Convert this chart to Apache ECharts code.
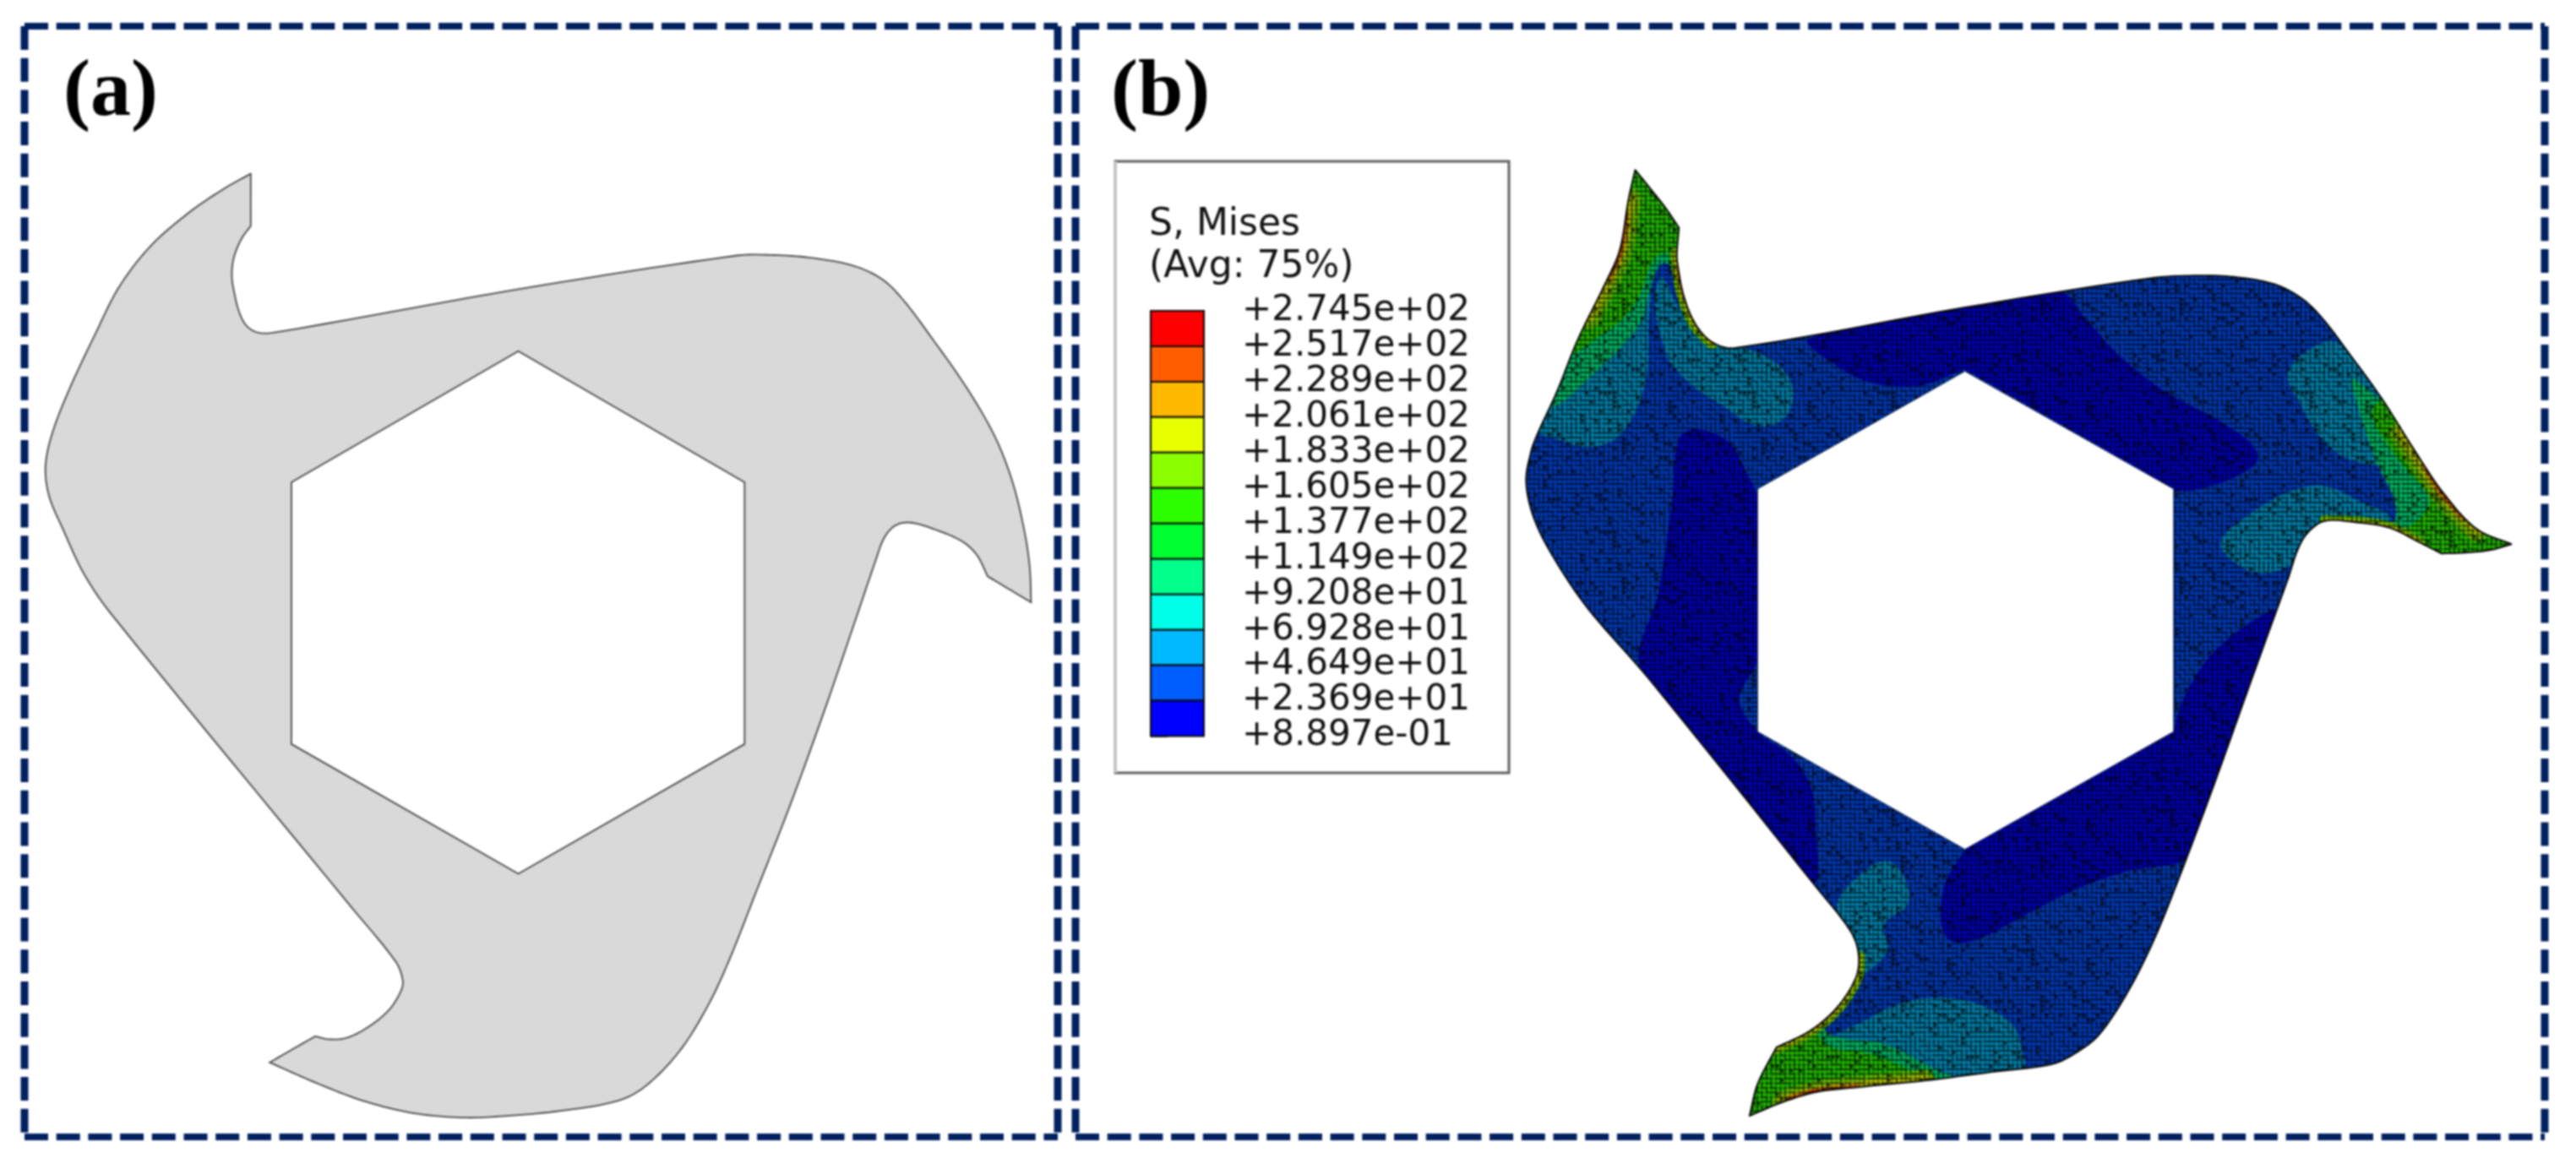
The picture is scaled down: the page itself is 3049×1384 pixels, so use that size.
<!DOCTYPE html>
<html><head><meta charset="utf-8">
<script src="https://cdn.jsdelivr.net/npm/echarts@6/dist/echarts.min.js"></script>
<style>html,body{margin:0;padding:0;background:#fff}#chart{width:3049px;height:1384px;filter:blur(0.9px)}</style>
</head><body><div id="chart"></div>
<script>
// ---------- Panel (a): undeformed profile, read in panel units (0..1568 on both axes)
var plainOutline=[[358,233],[358,303],[345,320],[334,345],[331,370],[335,395],[342,420],[352,437],[368,446],[392,446],[740,388],[1050,343],[1100,342],[1160,346],[1220,357],[1260,375],[1290,403],[1330,453],[1380,520],[1420,585],[1445,645],[1462,710],[1470,760],[1472,808],[1410,773],[1395,745],[1375,727],[1340,712],[1300,701],[1278,705],[1262,722],[1250,752],[1220,835],[1180,945],[1130,1075],[1080,1195],[1040,1290],[1010,1350],[970,1410],[920,1458],[880,1477],[800,1490],[720,1497],[660,1499],[590,1493],[520,1477],[450,1452],[385,1425],[450,1390],[470,1394],[495,1392],[525,1378],[555,1355],[572,1330],[575,1315],[565,1290],[500,1215],[160,825],[120,770],[90,710],[70,665],[65,625],[75,580],[100,520],[135,450],[170,385],[215,330],[270,285],[320,253]];
var plainCorners=[[358,233],[358,303],[1472,808],[1410,773],[385,1425],[450,1390]];
var plainHole=[[740,471],[1063,647],[1063,998],[740,1172],[416,998],[416,647]];

// ---------- Panel (b): deformed profile and contour regions, in panel units (0..1568)
var meshOutline=[[170,65],[190,90],[215,122],[235,152],[232,190],[233,207],[242,254],[259,296],[284,324],[318,333],[660,272],[935,228],[1000,224],[1060,226],[1120,237],[1160,258],[1190,287],[1230,340],[1280,410],[1330,490],[1370,550],[1420,605],[1472,628],[1440,637],[1400,641],[1368,642],[1335,625],[1290,603],[1240,595],[1195,593],[1170,610],[1155,635],[1140,680],[1090,820],[1030,990],[980,1125],[940,1225],[900,1305],[860,1365],[830,1390],[790,1410],[700,1422],[600,1435],[500,1445],[440,1452],[390,1467],[340,1488],[352,1440],[380,1385],[430,1360],[470,1325],[498,1280],[502,1245],[490,1210],[440,1145],[190,830],[100,725],[50,650],[20,590],[8,535],[15,490],[25,462],[54,398],[84,322],[125,237],[147,186],[160,110]];
var meshCorners=[[170,65],[235,152],[1472,628],[1368,642],[340,1488],[380,1385]];
var meshHole=[[660,368],[970,545],[970,910],[660,1087],[352,910],[352,545]];
var lowTop=[[430,318],[800,250],[840,290],[890,345],[960,400],[1050,450],[1095,495],[1065,525],[1000,547],[975,547],[660,365],[590,390],[520,385],[470,360]];
var lowLeft=[[235,470],[260,455],[310,475],[335,520],[352,560],[352,800],[325,860],[352,910],[400,945],[430,990],[438,1050],[430,1135],[180,820],[205,700],[225,560]];
var lowBottom=[[660,1087],[970,910],[985,860],[1030,790],[1110,730],[1135,730],[1000,1090],[900,1120],[830,1145],[760,1180],[680,1222],[640,1225],[625,1200],[630,1140]];
var midUpperLeft=[[20,450],[60,472],[100,482],[140,470],[170,430],[188,370],[190,300],[195,230],[190,150],[170,60],[100,200]];
var midUpperRight=[[205,230],[240,280],[290,325],[340,335],[385,360],[405,400],[390,440],[350,450],[300,420],[250,385],[215,340]];
var midRightTop=[[1180,330],[1215,325],[1250,370],[1300,430],[1340,500],[1290,510],[1230,500],[1190,470],[1160,420],[1140,370]];
var midRightLow=[[1040,625],[1080,585],[1140,550],[1190,540],[1240,560],[1290,595],[1200,600],[1170,615],[1150,655],[1100,672],[1060,655]];
var midBottomUp=[[510,1120],[545,1105],[570,1130],[575,1170],[540,1200],[545,1240],[510,1275],[495,1280],[490,1210],[470,1170]];
var midBottomLow=[[510,1345],[560,1320],[620,1310],[680,1320],[730,1350],[745,1390],[745,1425],[650,1435],[560,1445],[440,1460],[420,1400],[460,1370]];
var warmToothHalo=[[170,65],[235,152],[235,240],[215,205],[195,235],[180,290],[150,330],[110,370],[60,415],[40,420],[100,270],[145,170]];
var warmTooth=[[170,65],[235,152],[232,215],[215,190],[195,205],[175,255],[150,290],[110,320],[75,345],[65,360],[100,270],[145,170]];
var warmRightHalo=[[1240,380],[1472,628],[1368,642],[1250,600],[1300,590],[1270,500],[1250,440]];
var warmRight=[[1290,410],[1472,628],[1368,642],[1310,615],[1335,590],[1350,560],[1320,520],[1290,480],[1265,430]];
var warmBottomHalo=[[340,1488],[380,1385],[430,1350],[470,1370],[540,1380],[620,1420],[660,1440],[440,1460]];
var warmBottom=[[340,1488],[380,1385],[430,1360],[460,1385],[520,1395],[590,1425],[620,1445],[440,1460]];
var edgeYellow1=[[160,110],[147,186],[125,237],[100,285]];
var edgeOrange1=[[155,130],[147,186],[130,225]];
var edgeRed1=[[150,165],[140,200]];
var edgeYellow2=[[232,190],[233,207],[242,254],[259,296],[284,324]];
var edgeOrange2=[[233,215],[242,254]];
var edgeYellow3=[[1310,460],[1330,490],[1370,550],[1420,605]];
var edgeOrange3=[[1345,510],[1370,550],[1400,585]];
var edgeRed3=[[1365,543],[1385,567]];
var edgeYellow4=[[1195,593],[1240,595],[1290,603],[1335,625]];
var edgeYellow5=[[380,1385],[430,1360],[470,1325],[498,1280],[502,1250]];
var edgeOrange5=[[440,1352],[470,1325]];
var edgeYellow6=[[390,1467],[440,1452],[500,1445],[600,1435]];
var edgeOrange6=[[400,1463],[440,1452],[500,1445]];
var edgeRed6=[[430,1452],[480,1447]];

// ---------- Legend
var legendTitle=['S, Mises','(Avg: 75%)'];
var levelLabels=['+2.745e+02','+2.517e+02','+2.289e+02','+2.061e+02','+1.833e+02','+1.605e+02','+1.377e+02','+1.149e+02','+9.208e+01','+6.928e+01','+4.649e+01','+2.369e+01','+8.897e-01'];
var levels=levelLabels.map(Number);
var bandColors=['#ff0000','#ff5d00','#ffb900','#e8ff00','#8bff00','#2eff00','#00ff2e','#00ff8b','#00ffe8','#00b9ff','#005dff','#0000ff'];
var C={red:'#ff0000',orange:'#ff5d00',amber:'#ffb900',yellow:'#e8ff00',lime:'#8bff00',green:'#2eff00',green2:'#00ff8b',blue2:'#00b4f0',blue1:'#0052ff',blue0:'#0000ff'};

// fine element grid drawn as a repeating tile, maze-like as in a free mesh
function meshTile(){
  var n=30,s=5.5,size=n*s,c=document.createElement('canvas');c.width=c.height=size;var g=c.getContext('2d');
  g.fillStyle='rgba(0,0,0,0.27)';g.fillRect(0,0,size,size);
  function h(a,b){var v=Math.sin(a*12.9898+b*78.233)*43758.5453;return v-Math.floor(v);}
  for(var a=0;a<n;a++)for(var b=0;b<n;b++){
    var v=h(a,b);
    g.fillStyle='rgba(0,0,0,'+(v<0.5?0.68:0.32)+')';g.fillRect(a*s,b*s,s,1.9);
    g.fillStyle='rgba(0,0,0,'+(v<0.5?0.32:0.68)+')';g.fillRect(a*s,b*s,1.9,s);
    if(v>0.86){g.fillStyle='rgba(0,0,0,0.72)';g.fillRect(a*s+1,b*s+1,3.5,3.5);}
  }
  return c;
}
var tile=meshTile();

var fills=[[lowTop,C.blue0,[[660,365],[975,547]]],[lowLeft,C.blue0],[lowBottom,C.blue0,[[660,1087],[970,910]]],[midUpperLeft,C.blue2],[midUpperRight,C.blue2],[midRightTop,C.blue2],[midRightLow,C.blue2],[midBottomUp,C.blue2],[midBottomLow,C.blue2],[warmToothHalo,C.green2],[warmRightHalo,C.green2],[warmBottomHalo,C.green2],[warmTooth,C.green],[warmRight,C.green],[warmBottom,C.green]];
var strokes=[[edgeYellow1,C.lime,30],[edgeYellow2,C.lime,16],[edgeYellow3,C.lime,30],[edgeYellow4,C.lime,14],[edgeYellow5,C.lime,16],[edgeYellow6,C.lime,26],
 [edgeYellow1,C.yellow,16],[edgeYellow2,C.yellow,8],[edgeYellow3,C.yellow,16],[edgeYellow4,C.yellow,6],[edgeYellow5,C.yellow,8],[edgeYellow6,C.yellow,14],
 [edgeOrange1,C.amber,10],[edgeOrange2,C.amber,5],[edgeOrange3,C.amber,10],[edgeOrange5,C.amber,5],[edgeOrange6,C.amber,9],
 [edgeOrange1,C.orange,6],[edgeOrange3,C.orange,6],[edgeOrange6,C.orange,5],
 [edgeRed1,C.red,3],[edgeRed3,C.red,3],[edgeRed6,C.red,3]];

// Turns read points into a flowing curve, keeping the listed corners sharp.
function curve(pts,corners,open){
  var n=pts.length,out=[];
  function isCorner(i){
    if(open&&(i===0||i===n-1))return true;
    return (corners||[]).some(function(c){return c[0]===pts[i][0]&&c[1]===pts[i][1];});
  }
  function tangent(i){
    if(isCorner(i))return null;
    var a=pts[(i-1+n)%n],b=pts[(i+1)%n],dx=b[0]-a[0],dy=b[1]-a[1],l=Math.sqrt(dx*dx+dy*dy)||1;
    return [dx/l,dy/l];
  }
  var m=open?n-1:n;
  for(var i=0;i<m;i++){
    var p=pts[i],q=pts[(i+1)%n],dx=q[0]-p[0],dy=q[1]-p[1],L=Math.sqrt(dx*dx+dy*dy)/3;
    var t0=tangent(i),t1=tangent((i+1)%n);
    var c1=t0?[p[0]+t0[0]*L,p[1]+t0[1]*L]:[p[0]+dx/3,p[1]+dy/3];
    var c2=t1?[q[0]-t1[0]*L,q[1]-t1[1]*L]:[q[0]-dx/3,q[1]-dy/3];
    for(var k=0;k<10;k++){
      var u=k/10,w=1-u;
      out.push([w*w*w*p[0]+3*w*w*u*c1[0]+3*w*u*u*c2[0]+u*u*u*q[0],w*w*w*p[1]+3*w*w*u*c1[1]+3*w*u*u*c2[1]+u*u*u*q[1]]);
    }
  }
  if(open)out.push(pts[n-1]);
  return out;
}
function px(api,pts){return pts.map(function(p){return api.coord(p);});}

function renderPlain(params,api){
  return {type:'group',children:[
    {type:'polygon',shape:{points:px(api,curve(plainOutline,plainCorners))},style:{fill:'#d9d9d9',stroke:'#484848',lineWidth:1.8}},
    {type:'polygon',shape:{points:px(api,plainHole)},style:{fill:'#ffffff',stroke:'#484848',lineWidth:1.8}}
  ]};
}
function renderMesh(params,api){
  var o=px(api,curve(meshOutline,meshCorners)),kids=[];
  kids.push({type:'polygon',shape:{points:o},style:{fill:C.blue1}});
  fills.forEach(function(f){kids.push({type:'polygon',shape:{points:px(api,curve(f[0],f[2]))},style:{fill:f[1]},clipPath:{type:'polygon',shape:{points:o}}});});
  strokes.forEach(function(s){kids.push({type:'polyline',shape:{points:px(api,curve(s[0],null,true))},style:{fill:null,stroke:s[1],lineWidth:s[2],lineCap:'round',lineJoin:'round'},clipPath:{type:'polygon',shape:{points:o}}});});
  kids.push({type:'polygon',shape:{points:o},style:{fill:{image:tile,repeat:'repeat'}}});
  kids.push({type:'polygon',shape:{points:o},style:{fill:null,stroke:'#0a0a0a',lineWidth:2,lineJoin:'round'}});
  kids.push({type:'polygon',shape:{points:px(api,meshHole)},style:{fill:'#ffffff',stroke:'#2a3a60',lineWidth:1}});
  return {type:'group',children:kids};
}
function renderBands(params,api){
  var i=params.dataIndex,a=api.coord([0,levels[i]]),b=api.coord([1,levels[i+1]]);
  return {type:'rect',shape:{x:a[0],y:a[1],width:b[0]-a[0],height:b[1]-a[1]},style:{fill:bandColors[i],stroke:'#0a0a0a',lineWidth:2}};
}
function frameLine(x1,y1,x2,y2,w){
  return {type:'line',silent:true,shape:{x1:x1,y1:y1,x2:x2,y2:y2},style:{stroke:'#002060',lineWidth:w,lineDash:[28,9.7]}};
}
var chart=echarts.init(document.getElementById('chart'),null,{width:3049,height:1384});
chart.setOption({
  animation:false,backgroundColor:'#ffffff',
  grid:[
    {left:0,top:0,width:1300,height:1384},
    {left:1800,top:150,width:1249,height:1234},
    {left:1362,top:368,width:63,height:503.5}
  ],
  xAxis:[
    {gridIndex:0,type:'value',min:0,max:1568,show:false},
    {gridIndex:1,type:'value',min:0,max:1568,show:false},
    {gridIndex:2,type:'value',min:0,max:1,show:false}
  ],
  yAxis:[
    {gridIndex:0,type:'value',min:0,max:1568,inverse:true,show:false},
    {gridIndex:1,type:'value',min:0,max:1568,inverse:true,show:false},
    {gridIndex:2,type:'value',position:'right',min:levels[levels.length-1],max:levels[0],
     axisLine:{show:false},splitLine:{show:false},
     axisTick:{show:true,length:20,customValues:levels,lineStyle:{color:'#222',width:1.6}},
     axisLabel:{show:true,margin:45,customValues:levels,fontFamily:'DejaVu Sans',fontSize:42,color:'#111',
       formatter:function(v){return levelLabels[levels.indexOf(v)];}}}
  ],
  series:[
    {type:'custom',xAxisIndex:0,yAxisIndex:0,data:[[0,0]],renderItem:renderPlain,silent:true,clip:false},
    {type:'custom',xAxisIndex:1,yAxisIndex:1,data:[[0,0]],renderItem:renderMesh,silent:true,clip:false},
    {type:'custom',xAxisIndex:2,yAxisIndex:2,data:bandColors.map(function(c,i){return [0,levels[i]];}),renderItem:renderBands,silent:true,clip:false}
  ],
  graphic:[
    frameLine(29,31,1252,31,8),frameLine(29,1346,1252,1346,8),frameLine(29,31,29,1346,9),frameLine(1252,31,1252,1346,9),
    frameLine(1273,31,3012,31,8),frameLine(1273,1346,3012,1346,8),frameLine(1273,31,1273,1346,9),frameLine(3012,31,3012,1346,9),
    {type:'rect',silent:true,z:-1,shape:{x:1320,y:191,width:466,height:724},style:{fill:'#fff',stroke:'#5f5f5f',lineWidth:3}},
    {type:'line',silent:true,z:-1,shape:{x1:1320,y1:191,x2:1320,y2:915},style:{stroke:'#c4c4c4',lineWidth:4}},
    {type:'text',silent:true,style:{x:75,y:111,text:'(a)',font:'bold 96px "Liberation Serif"',fill:'#000',verticalAlign:'middle'}},
    {type:'text',silent:true,style:{x:1315,y:111,text:'(b)',font:'bold 96px "Liberation Serif"',fill:'#000',verticalAlign:'middle'}},
    {type:'text',silent:true,style:{x:1360,y:267,text:legendTitle[0],font:'44px "DejaVu Sans"',fill:'#111',verticalAlign:'middle'}},
    {type:'text',silent:true,style:{x:1360,y:317,text:legendTitle[1],font:'44px "DejaVu Sans"',fill:'#111',verticalAlign:'middle'}}
  ]
});
</script></body></html>
